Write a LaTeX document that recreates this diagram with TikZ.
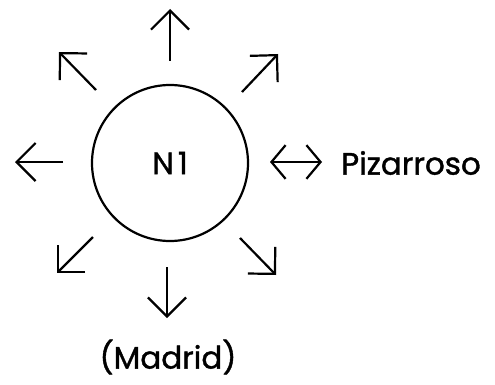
\documentclass[tikz,border=0pt]{standalone}
\usepackage{fontspec}
\setmainfont{Poppins}[FakeBold=1.2]
\usetikzlibrary{arrows.meta}
\begin{document}
\begin{tikzpicture}[x=1pt,y=-1pt,
  ray/.style={line width=2.2pt,-{Straight Barb[angle=90:27pt,line width=2.2pt]}},
  dray/.style={line width=2.2pt,{Straight Barb[angle=100:22pt,line width=2.2pt]}-{Straight Barb[angle=100:22pt,line width=2.2pt]}},
  lbl/.style={inner sep=0pt,font=\fontsize{31}{33}\selectfont}]
\useasboundingbox (0,0) rectangle (495,385);
\node[draw,circle,line width=2.2pt,minimum size=156pt,inner sep=0pt] (n1) at (170,163) {};
\node[lbl] (t) at (170,163) {N\kern4pt1};
\node[lbl,anchor=west] (piz) at (341,163) {Pizarroso};
\node[lbl] (mad) at (168,357) {(Madrid)};
\coordinate (u0) at (170,61);  \coordinate (u1) at (170,9);
\coordinate (ul0) at (96,90);  \coordinate (ul1) at (59,52);
\coordinate (ur0) at (242,92); \coordinate (ur1) at (278,54);
\coordinate (l0) at (63,162);  \coordinate (l1) at (15,162);
\coordinate (r0) at (270,162); \coordinate (r1) at (322,162);
\coordinate (dl0) at (93,237); \coordinate (dl1) at (57,273);
\coordinate (d0) at (167,267); \coordinate (d1) at (167,318);
\coordinate (dr0) at (240,238);\coordinate (dr1) at (276,275);
\draw[ray] (u0) -- (u1);
\draw[ray] (ul0) -- (ul1);
\draw[ray] (ur0) -- (ur1);
\draw[ray] (l0) -- (l1);
\draw[dray] (r0) -- (r1);
\draw[ray] (dl0) -- (dl1);
\draw[ray] (d0) -- (d1);
\draw[ray] (dr0) -- (dr1);
\end{tikzpicture}
\end{document}
